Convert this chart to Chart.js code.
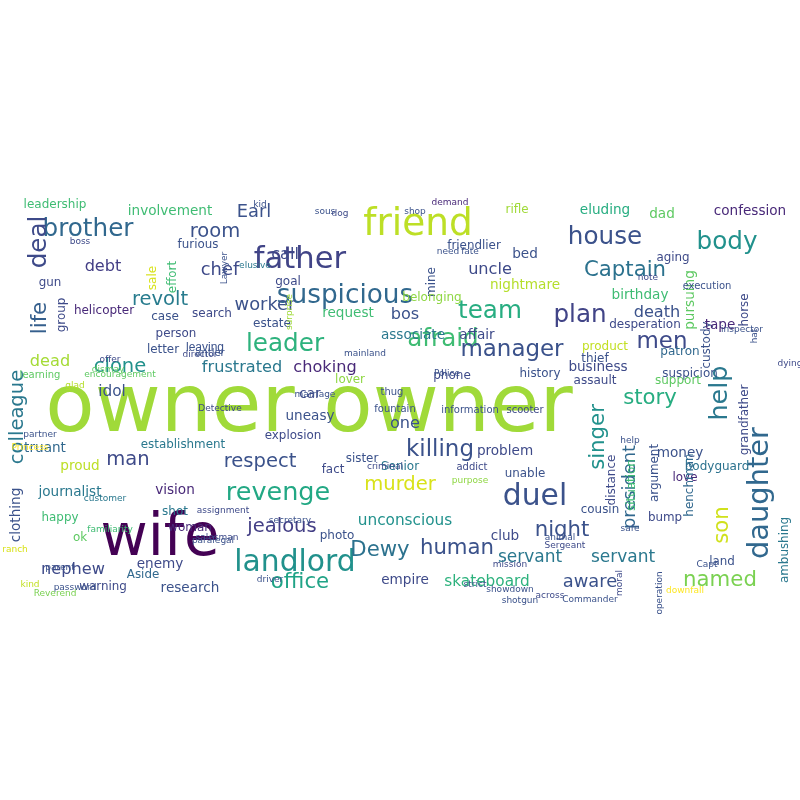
<!DOCTYPE html>
<html>
<head>
<meta charset="utf-8">
<script src="https://cdn.jsdelivr.net/npm/chart.js@4"></script>
<style>
  html, body { margin: 0; padding: 0; background: #fff; }
  #wrap { width: 800px; height: 800px; }
</style>
</head>
<body>
<div id="wrap"><canvas id="cloud"></canvas></div>
<script>
// ===== DONNÉES DU NUAGE DE MOTS =====
// mot, position du centre (x, y sur 0..800), taille, couleur, vertical (1) ou non (0)
var words  = ["owner","owner","wife","friend","father","suspicious","landlord","revenge","duel","daughter","help","brother","deal","colleague","life","house","body","plan","team","Captain","leader","afraid","manager","men","killing","murder","story","singer","president","son","named","night","human","Dewy","office","servant","servant","aware","skateboard","empire","unconscious","jealous","respect","man","clone","frustrated","choking","idol","dead","revolt","worker","chef","debt","room","call","Earl","involvement","eluding","dad","confession","rifle","bed","uncle","friendlier","aging","pursuing","custody","horse","death","birthday","tape","nightmare","request","bos","associate","affair","business","history","product","suspicion","patron","support","assault","one","car","lover","uneasy","explosion","establishment","vision","shot","proud","truant","journalist","happy","ok","clothing","nephew","enemy","research","warning","Aside","woman","fact","sister","Senior","problem","unable","club","cousin","bump","money","love","argument","bodyguard","grandfather","situation","henchman","distance","land","ambushing","gun","group","helicopter","search","estate","person","letter","furious","goal","effort","sale","case","leadership","mine","belonging","thief","desperation","execution","phone","thug","fountain","information","scooter","criminal","purpose","photo","addict","Police","Detective","learning","encouragement","marriage","director","mainland","antler","offer","dismay","glad","Princess","boss","kid","demand","sous","dog","shop","need","fate","note","elusive","Lawyer","surprise","hat","dying","inspector","partner","kind","customer","password","parent","Reverend","ranch","familiarity","assignment","secretary","salesman","paralegal","driver","Sergeant","safe","downfall","showdown","mission","across","shotgun","moral","Commander","operation","strict","animal","Capt","help","leaving"];
var xs     = [170,448,160,418,300,345,295,278,535,760,720,88,40,18,40,605,727,580,490,625,285,443,512,662,440,400,650,598,630,722,720,562,457,380,300,530,623,590,487,405,405,282,260,128,120,242,325,112,50,160,265,220,103,215,285,254,170,605,662,750,517,525,490,474,673,690,707,745,657,640,720,525,348,405,413,477,598,540,605,690,680,678,595,405,310,350,310,293,183,175,175,80,45,70,60,80,16,73,160,190,103,143,190,333,362,400,505,525,505,600,665,680,685,655,717,745,632,690,612,722,785,50,62,104,212,272,176,163,198,288,173,153,165,55,432,432,595,645,707,452,392,395,470,525,385,470,337,472,447,220,40,120,315,200,365,210,110,108,75,30,80,260,450,325,340,415,448,470,648,255,225,290,755,790,742,40,30,105,75,60,55,15,110,223,290,217,213,270,565,630,685,510,510,550,520,620,590,660,475,560,707,630,205,320];
var ys     = [410,410,540,225,260,296,563,493,497,493,393,230,242,417,318,238,243,316,312,270,345,340,350,342,450,485,398,437,487,525,580,530,548,550,582,558,558,582,582,580,521,527,462,460,367,368,368,392,362,300,305,270,267,232,255,212,211,210,214,211,210,254,270,246,258,300,345,310,313,295,325,285,313,315,335,335,367,374,347,374,352,381,381,424,394,380,416,436,445,490,512,466,448,492,518,538,515,570,564,588,587,575,528,470,459,467,451,474,536,510,518,453,478,473,467,420,485,485,480,562,550,283,315,311,314,324,334,350,245,282,277,278,317,205,282,298,359,325,286,376,392,409,410,410,467,481,536,467,374,409,375,375,395,355,354,353,360,370,386,448,242,205,203,212,214,212,252,252,278,266,268,312,336,364,330,435,585,499,588,568,594,550,530,511,521,538,541,580,546,529,591,590,565,596,601,583,600,593,585,538,565,441,348,216];
var sizes  = [95,95,68,44,36,31,35,30,35,34,30,29,29,23,25,29,29,29,29,25,29,29,27,27,27,23,25,25,21,25,25,25,25,25,25,20,20,21,18,16,18,23,23,23,23,19,19,18,19,23,21,21,19,23,19,21,16,16,16,16,14,16,19,14,14,16,12,14,19,16,16,16,16,19,16,16,16,14,12,14,12,12,12,19,16,14,16,14,14,16,12,16,16,16,14,14,16,19,16,16,14,14,12,14,14,12,16,14,16,14,14,16,14,14,12,14,14,12,12,14,14,14,14,12,12,12,14,14,14,12,14,12,12,12,12,12,12,12,10,12,10,10,10,10,9,9,12,10,9,9,10,9,9,9,9,10,9,9,9,9,9,9,9,9,9,9,9,9,9,9,9,9,9,9,9,9,9,9,9,9,9,9,9,9,9,9,9,9,9,9,9,9,9,9,9,9,9,9,9,9,9,9];
var colors = ["#a0da39","#a0da39","#440154","#bddf26","#414487","#31688e","#21918c","#22a884","#3b528b","#31688e","#2a788e","#31688e","#3e4a89","#2a788e","#355f8d","#3b528b","#21918c","#414487","#27ad81","#2c728e","#2db27d","#3fbc73","#3b528b","#3e4a89","#3b528b","#d8e219","#27ad81","#21918c","#31688e","#d0e11c","#7ad151","#3b528b","#3b528b","#2c728e","#20a386","#2a788e","#2a788e","#3b528b","#2db27d","#3e4a89","#21918c","#433e85","#3b528b","#3e4a89","#21918c","#2a788e","#482878","#3b528b","#a5db36","#287c8e","#3b528b","#3e4a89","#433e85","#3b528b","#3e4a89","#3b528b","#3fbc73","#27ad81","#5ec962","#482878","#a0da39","#3b528b","#3e4a89","#3b528b","#3e4a89","#5ec962","#3b528b","#3e4a89","#3b528b","#3fbc73","#482878","#b5de2b","#3fbc73","#3b528b","#2a788e","#3e4a89","#3e4a89","#3b528b","#c2df23","#3b528b","#31688e","#5ec962","#3e4a89","#3b528b","#3e4a89","#8fd744","#3b528b","#3e4a89","#2a788e","#482878","#2a788e","#bddf26","#31688e","#2a788e","#3fbc73","#5ec962","#3b528b","#3e4a89","#3e4a89","#3b528b","#3e4a89","#31688e","#482878","#3e4a89","#3b528b","#2a788e","#3e4a89","#3b528b","#3e4a89","#3b528b","#3e4a89","#3b528b","#482878","#3b528b","#2c728e","#3e4a89","#3fbc73","#31688e","#3e4a89","#3b528b","#2a788e","#3e4a89","#3e4a89","#482878","#3e4a89","#3b528b","#3e4a89","#3b528b","#3b528b","#3e4a89","#3fbc73","#d8e219","#3b528b","#3fbc73","#3b528b","#8fd744","#3b528b","#3e4a89","#3b528b","#3e4a89","#3b528b","#3b528b","#3b528b","#3e4a89","#3e4a89","#8fd744","#3b528b","#3e4a89","#3b528b","#3e4a89","#5ec962","#5ec962","#3b528b","#3e4a89","#3b528b","#3b528b","#3e4a89","#5ec962","#b5de2b","#fde725","#3e4a89","#3b528b","#482878","#3b528b","#3e4a89","#3b528b","#3b528b","#3b528b","#3e4a89","#2a788e","#3b528b","#a0da39","#3b528b","#3e4a89","#3b528b","#3b528b","#c2df23","#2a788e","#3b528b","#3b528b","#7ad151","#d8e219","#3fbc73","#3e4a89","#3b528b","#3e4a89","#3b528b","#3b528b","#3e4a89","#3b528b","#fde725","#3b528b","#3e4a89","#3e4a89","#3b528b","#3e4a89","#3b528b","#3b528b","#3b528b","#3b528b","#3b528b","#3b528b","#3b528b","#3b528b","#3b528b","#3b528b","#a0da39"];
var vertical = [0,0,0,0,0,0,0,0,0,1,1,0,1,1,1,0,0,0,0,0,0,0,0,0,0,0,0,1,1,1,0,0,0,0,0,0,0,0,0,0,0,0,0,0,0,0,0,0,0,0,0,0,0,0,0,0,0,0,0,0,0,0,0,0,0,1,1,1,0,0,0,0,0,0,0,0,0,0,0,0,0,0,0,0,0,0,0,0,0,0,0,0,0,0,0,0,1,0,0,0,0,0,0,0,0,0,0,0,0,0,0,0,0,1,0,1,1,1,1,0,1,0,1,0,0,0,0,0,0,0,1,1,0,0,1,0,0,0,0,0,0,0,0,0,0,0,0,0,0,0,0,0,0,0,0,0,0,0,0,0,0,0,0,0,0,0,0,0,0,0,1,1,1,0,0,0,0,0,0,0,0,0,0,0,0,0,0,0,0,0,0,0,0,0,0,1,0,1,0,0];

// ===== PLUGIN : dessine chaque mot au point calculé par les échelles =====
var textPlugin = {
    id: 'wordText',
    afterDatasetsDraw: function (chart) {
        var ctx = chart.ctx;
        var meta = chart.getDatasetMeta(0);
        meta.data.forEach(function (pt, i) {
            // les grands mots sont un peu réduits pour coller à la largeur de l'original
            var s = sizes[i] > 12 ? sizes[i] * 0.85 : sizes[i];
            ctx.save();
            ctx.translate(pt.x, pt.y);
            if (vertical[i]) ctx.rotate(-Math.PI / 2);
            ctx.font = s + 'px "DejaVu Sans"';
            ctx.fillStyle = colors[i];
            ctx.textAlign = 'center';
            ctx.textBaseline = 'middle';
            ctx.fillText(words[i], 0, 0);
            ctx.restore();
        });
    }
};

new Chart(document.getElementById('cloud'), {
    type: 'scatter',
    data: {
        datasets: [{
            data: words.map(function (w, i) { return { x: xs[i], y: ys[i] }; }),
            pointRadius: 0
        }]
    },
    options: {
        responsive: true,
        maintainAspectRatio: false,
        animation: false,
        layout: { padding: 0 },
        plugins: { legend: { display: false }, tooltip: { enabled: false } },
        scales: {
            x: { display: false, min: 0, max: 800 },
            y: { display: false, min: 0, max: 800, reverse: true }
        }
    },
    plugins: [textPlugin]
});
</script>
</body>
</html>
